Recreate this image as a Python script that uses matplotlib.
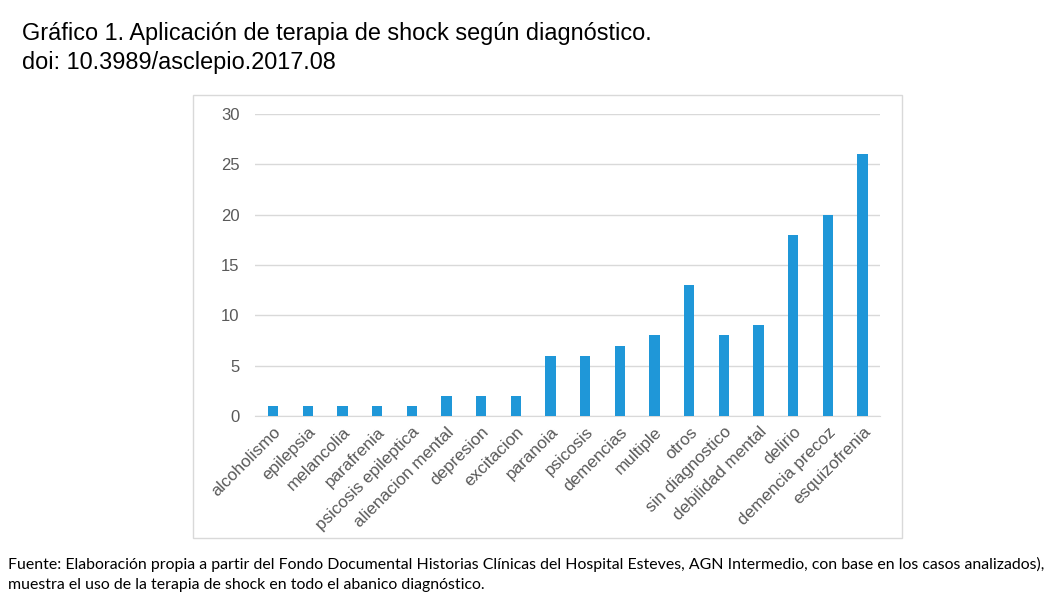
import matplotlib

matplotlib.use("Agg")
import matplotlib.pyplot as plt
from matplotlib.patches import Rectangle

# Diagnosis categories in chart order, with shock-therapy case counts
DIAGNOSES = [
    "alcoholismo", "epilepsia", "melancolia", "parafrenia", "psicosis epileptica",
    "alienacion mental", "depresion", "excitacion", "paranoia", "psicosis",
    "demencias", "multiple", "otros", "sin diagnostico", "debilidad mental",
    "delirio", "demencia precoz", "esquizofrenia",
]
CASES = [1, 1, 1, 1, 1, 2, 2, 2, 6, 6, 7, 8, 13, 8, 9, 18, 20, 26]
Y_TICKS = [0, 5, 10, 15, 20, 25, 30]

TITLE = ("Gráfico 1. Aplicación de terapia de shock según diagnóstico.\n"
         "doi: 10.3989/asclepio.2017.08")
SOURCE = ("Fuente: Elaboración propia a partir del Fondo Documental Historias Clínicas "
          "del Hospital Esteves, AGN Intermedio, con base en los casos analizados),\n"
          "muestra el uso de la terapia de shock en todo el abanico diagnóstico.")

BAR = "#1f97d8"
GRID = "#d9d9d9"
TICK = "#595959"

W, H = 1061, 601
fig = plt.figure(figsize=(W / 100, H / 100), dpi=100)


def px(x0, y0, x1, y1):
    """Pixel box (top-left origin) -> figure fraction rect."""
    return [x0 / W, 1 - y1 / H, (x1 - x0) / W, (y1 - y0) / H]


# chart frame, like the spreadsheet chart area
fig.patches.append(Rectangle((193 / W, 1 - 538 / H), (902 - 193) / W, (538 - 95) / H,
                             transform=fig.transFigure, fill=False,
                             edgecolor="#d9d9d9", linewidth=1))

ax = fig.add_axes(px(255, 114, 880, 416))
x = range(len(DIAGNOSES))
ax.bar(x, CASES, width=0.3, color=BAR, zorder=3)
ax.set_ylim(0, 30)
ax.set_xlim(-0.52, len(DIAGNOSES) - 0.5)
ax.set_yticks(Y_TICKS)
ax.set_xticks(list(x))
ax.set_xticklabels(DIAGNOSES, rotation=45, ha="right", rotation_mode="anchor",
                   fontsize=12.3, color=TICK, family="Liberation Sans")
for lab in ax.get_yticklabels():
    lab.set_fontsize(12)
    lab.set_color(TICK)
    lab.set_family("Liberation Sans")
ax.yaxis.grid(True, color=GRID, linewidth=1)
ax.set_axisbelow(True)
for side in ("top", "right", "left"):
    ax.spines[side].set_visible(False)
ax.spines["bottom"].set_color(GRID)
ax.tick_params(axis="both", length=0)
ax.tick_params(axis="y", pad=11)
ax.tick_params(axis="x", pad=6)

fig.text(22 / W, 1 - 22 / H, TITLE, fontsize=16.9, family="Liberation Sans",
         ha="left", va="top", linespacing=1.33)
fig.text(8 / W, 1 - 557 / H, SOURCE, fontsize=11.4, family="Lato",
         ha="left", va="top", linespacing=1.5)

fig.savefig("out.png", dpi=100)
